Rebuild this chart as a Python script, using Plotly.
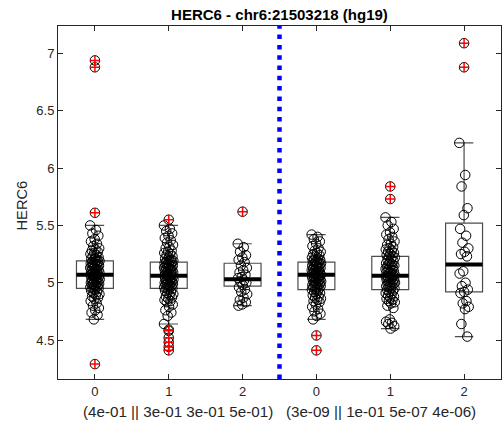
import plotly.graph_objects as go

# ---------------- data ----------------
positions = [1, 2, 3, 4, 5, 6]
tick_labels = ['0', '1', '2', '0', '1', '2']
title_text = 'HERC6 - chr6:21503218 (hg19)'
xlabel_text = '(4e-01 || 3e-01 3e-01 5e-01)\u00a0\u00a0\u00a0(3e-09 || 1e-01 5e-07 4e-06)'
ylabel_text = 'HERC6'

q1 = [4.95, 4.95, 4.97, 4.94, 4.94, 4.92]
median = [5.07, 5.06, 5.03, 5.07, 5.06, 5.16]
q3 = [5.19, 5.18, 5.17, 5.18, 5.23, 5.52]
lower_whisker = [4.68, 4.64, 4.80, 4.68, 4.60, 4.53]
upper_whisker = [5.50, 5.50, 5.34, 5.42, 5.57, 6.22]

g1_vals = [5.50, 5.46, 5.43, 5.41, 5.38, 5.36, 5.34, 5.32, 5.30, 5.29, 5.28, 5.27, 5.26, 5.25, 5.24,
           5.23, 5.22, 5.21, 5.21, 5.20, 5.20, 5.19, 5.19, 5.18, 5.18, 5.17, 5.17, 5.16, 5.16, 5.15,
           5.15, 5.14, 5.14, 5.13, 5.13, 5.12, 5.12, 5.11, 5.11, 5.10, 5.10, 5.09, 5.09, 5.08, 5.08,
           5.07, 5.07, 5.07, 5.06, 5.06, 5.05, 5.05, 5.04, 5.04, 5.03, 5.03, 5.02, 5.02, 5.01, 5.01,
           5.00, 5.00, 4.99, 4.99, 4.98, 4.98, 4.97, 4.97, 4.96, 4.96, 4.95, 4.95, 4.94, 4.93, 4.92,
           4.91, 4.90, 4.89, 4.88, 4.87, 4.86, 4.84, 4.82, 4.80, 4.78, 4.76, 4.74, 4.72, 4.68]
g1_out = [6.94, 6.88, 5.61, 4.29]

g2_vals = [5.50, 5.47, 5.45, 5.43, 5.41, 5.39, 5.37, 5.35, 5.33, 5.31, 5.30, 5.28, 5.27, 5.26, 5.25,
           5.24, 5.23, 5.22, 5.21, 5.20, 5.20, 5.19, 5.19, 5.18, 5.18, 5.17, 5.17, 5.16, 5.16, 5.15,
           5.15, 5.14, 5.14, 5.13, 5.13, 5.12, 5.12, 5.11, 5.11, 5.10, 5.10, 5.09, 5.09, 5.08, 5.08,
           5.07, 5.07, 5.06, 5.06, 5.06, 5.05, 5.05, 5.04, 5.04, 5.03, 5.03, 5.02, 5.02, 5.01, 5.01,
           5.00, 5.00, 4.99, 4.99, 4.98, 4.98, 4.97, 4.97, 4.96, 4.96, 4.95, 4.95, 4.94, 4.93, 4.92,
           4.91, 4.90, 4.89, 4.88, 4.87, 4.86, 4.85, 4.84, 4.83, 4.81, 4.79, 4.76, 4.74, 4.71, 4.64]
g2_out = [5.55, 4.59, 4.58, 4.52, 4.48, 4.44, 4.41]

g3_vals = [5.34, 5.31, 5.27, 5.24, 5.22, 5.20, 5.18, 5.15, 5.13, 5.11, 5.09, 5.07, 5.05, 5.04,
           5.02, 5.01, 5.00, 4.98, 4.96, 4.94, 4.92, 4.90, 4.87, 4.85, 4.83, 4.81, 4.80]
g3_out = [5.62]

g4_vals = [5.42, 5.40, 5.38, 5.36, 5.34, 5.32, 5.30, 5.28, 5.27, 5.26, 5.25, 5.24, 5.23, 5.22, 5.21,
           5.20, 5.20, 5.19, 5.19, 5.18, 5.18, 5.17, 5.17, 5.16, 5.16, 5.15, 5.15, 5.14, 5.14, 5.13,
           5.13, 5.12, 5.12, 5.11, 5.11, 5.10, 5.10, 5.09, 5.09, 5.08, 5.08, 5.07, 5.07, 5.07, 5.06,
           5.06, 5.05, 5.05, 5.04, 5.04, 5.03, 5.03, 5.02, 5.02, 5.01, 5.01, 5.00, 5.00, 4.99, 4.99,
           4.98, 4.98, 4.97, 4.97, 4.96, 4.96, 4.95, 4.94, 4.94, 4.93, 4.92, 4.91, 4.90, 4.89, 4.88,
           4.87, 4.86, 4.85, 4.84, 4.83, 4.81, 4.79, 4.77, 4.75, 4.73, 4.71, 4.68]
g4_out = [4.54, 4.41]

g5_vals = [5.57, 5.53, 5.50, 5.47, 5.44, 5.42, 5.40, 5.38, 5.36, 5.34, 5.33, 5.31, 5.30, 5.29, 5.28,
           5.27, 5.26, 5.25, 5.24, 5.23, 5.23, 5.22, 5.21, 5.20, 5.19, 5.18, 5.17, 5.16, 5.16, 5.15,
           5.15, 5.14, 5.13, 5.13, 5.12, 5.11, 5.11, 5.10, 5.09, 5.09, 5.08, 5.08, 5.07, 5.07, 5.06,
           5.06, 5.05, 5.05, 5.04, 5.04, 5.03, 5.03, 5.02, 5.01, 5.01, 5.00, 5.00, 4.99, 4.99, 4.98,
           4.97, 4.97, 4.96, 4.95, 4.95, 4.94, 4.93, 4.92, 4.91, 4.90, 4.89, 4.88, 4.87, 4.86, 4.85,
           4.84, 4.83, 4.82, 4.80, 4.78, 4.68, 4.66, 4.65, 4.64, 4.62, 4.60]
g5_out = [5.84, 5.73]

g6_vals = [6.22, 5.94, 5.84, 5.65, 5.59, 5.47, 5.41, 5.35, 5.30, 5.27, 5.25, 5.23, 5.10, 5.08,
           5.00, 4.97, 4.94, 4.92, 4.91, 4.84, 4.82, 4.79, 4.77, 4.64, 4.53]
g6_out = [7.09, 6.88]

group_vals = [g1_vals, g2_vals, g3_vals, g4_vals, g5_vals, g6_vals]
group_out = [g1_out, g2_out, g3_out, g4_out, g5_out, g6_out]

# ---------------- style ----------------
FONT = 'Liberation Sans, Arial, sans-serif'
AX = '#262626'
BOX_W = 0.5
JIT = 0.065
GOLD = 0.6180339887

fig = go.Figure()

fig.add_trace(go.Box(
    x=positions, q1=q1, median=median, q3=q3,
    lowerfence=lower_whisker, upperfence=upper_whisker,
    width=BOX_W, whiskerwidth=0.5, boxpoints=False,
    line=dict(color='#4d4d4d', width=1.2), fillcolor='rgba(0,0,0,0)',
    hoverinfo='skip', showlegend=False))

# jittered points (deterministic low-discrepancy jitter)
px, py = [], []
for pos, vals in zip(positions, group_vals):
    for i, v in enumerate(vals):
        frac = (i * GOLD) % 1.0
        px.append(pos + (2 * frac - 1) * JIT)
        py.append(v)
fig.add_trace(go.Scatter(x=px, y=py, mode='markers',
                         marker=dict(symbol='circle-open', size=9.5, color='black',
                                     line=dict(width=1, color='black')),
                         hoverinfo='skip', showlegend=False))

# outliers: black circle + red cross
ox, oy = [], []
for pos, vals in zip(positions, group_out):
    for v in vals:
        ox.append(pos)
        oy.append(v)
fig.add_trace(go.Scatter(x=ox, y=oy, mode='markers',
                         marker=dict(symbol='circle-open', size=9.5, color='black',
                                     line=dict(width=1, color='black')),
                         hoverinfo='skip', showlegend=False))
fig.add_trace(go.Scatter(x=ox, y=oy, mode='markers',
                         marker=dict(symbol='cross-thin-open', size=7, color='red',
                                     line=dict(width=1.5, color='red')),
                         hoverinfo='skip', showlegend=False))

# thick median lines
mx, my = [], []
for pos, m in zip(positions, median):
    mx += [pos - BOX_W / 2, pos + BOX_W / 2, None]
    my += [m, m, None]
fig.add_trace(go.Scatter(x=mx, y=my, mode='lines', line=dict(color='black', width=4),
                         hoverinfo='skip', showlegend=False))

# separator between the two groups of genotypes
sep_x = (positions[2] + positions[3]) / 2
fig.add_shape(type='line', x0=sep_x, x1=sep_x, xref='x', yref='paper', y0=0, y1=1,
              line=dict(color='#0000ff', width=4.5, dash='4.5px,5.8px'), layer='above')

fig.update_layout(
    width=502, height=428,
    margin=dict(l=58, r=1, t=26, b=49),
    paper_bgcolor='white', plot_bgcolor='white',
    font=dict(family=FONT, size=13, color=AX),
    title=dict(text='<b>' + title_text + '</b>', x=0.5, xref='paper', xanchor='center',
               y=1 - 14.7 / 428, yanchor='middle', yref='container',
               font=dict(family=FONT, size=15, color='black')),
    xaxis=dict(range=[0.5, 6.5], tickmode='array', tickvals=positions, ticktext=tick_labels,
               showline=True, linecolor=AX, linewidth=1, mirror='ticks',
               ticks='inside', ticklen=5, tickcolor=AX, showgrid=False, zeroline=False,
               tickfont=dict(size=13, color=AX)),
    yaxis=dict(range=[4.16, 7.24], tickmode='array', tickvals=[4.5, 5, 5.5, 6, 6.5, 7],
               ticktext=['4.5', '5', '5.5', '6', '6.5', '7'],
               showline=True, linecolor=AX, linewidth=1, mirror='ticks',
               ticks='inside', ticklen=5, tickcolor=AX, showgrid=False, zeroline=False,
               tickfont=dict(size=13, color=AX)),
    annotations=[
        dict(text=xlabel_text, xref='paper', yref='paper', x=0.5, y=(379 - 411) / 353,
             xanchor='center', yanchor='middle', showarrow=False,
             font=dict(family=FONT, size=15.2, color=AX)),
        dict(text=ylabel_text, xref='paper', yref='paper', x=(21.5 - 58) / 443, y=(379 - 206) / 353,
             xanchor='center', yanchor='middle', textangle=-90, showarrow=False,
             font=dict(family=FONT, size=14.7, color=AX)),
    ],
)

fig.write_html('out.html')
